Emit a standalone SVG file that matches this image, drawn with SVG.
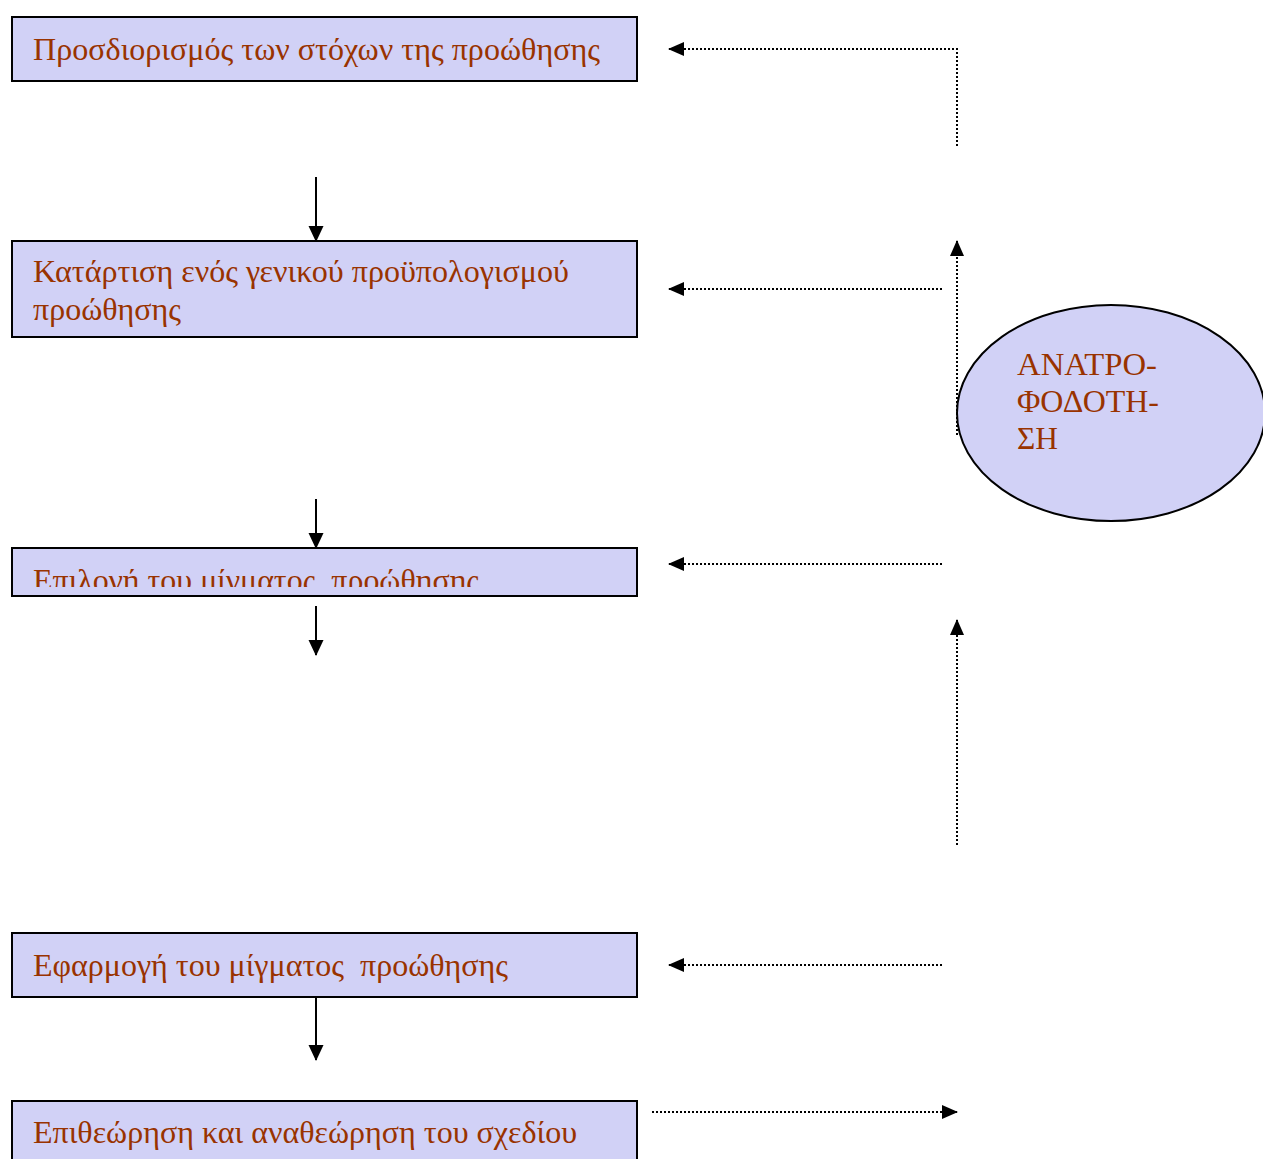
<svg xmlns="http://www.w3.org/2000/svg" width="1263" height="1159" viewBox="0 0 1263 1159">
  <defs>
    <marker id="solid-head" markerWidth="16" markerHeight="16" refX="15" refY="8" orient="auto" markerUnits="userSpaceOnUse">
      <path d="M0,0.5 L16,8 L0,15.5 Z" fill="#000"/>
    </marker>
    <marker id="dot-head" markerWidth="16" markerHeight="16" refX="15" refY="8" orient="auto" markerUnits="userSpaceOnUse">
      <path d="M0,1 L16,8 L0,15 Z" fill="#000"/>
    </marker>
    <clipPath id="clip-step3">
      <rect x="12" y="548" width="625" height="39"/>
    </clipPath>
  </defs>
  <style>
    .box { fill: #d1d1f6; stroke: #000; stroke-width: 2; }
    .label { font-family: "Liberation Serif", "Times New Roman", serif; font-size: 32px; fill: #993300; }
    .solid { stroke: #000; stroke-width: 2; fill: none; marker-end: url(#solid-head); }
    .dotted-arrow { stroke: #000; stroke-width: 2; stroke-dasharray: 2 2; fill: none; marker-end: url(#dot-head); }
  </style>
  <rect width="1263" height="1159" fill="#fff"/>

  <g id="step-objectives">
    <rect class="box" x="12" y="17" width="625" height="64"/>
    <text class="label" x="33" y="60" textLength="567" lengthAdjust="spacingAndGlyphs">Προσδιορισμός των στόχων της προώθησης</text>
  </g>

  <g id="step-budget">
    <rect class="box" x="12" y="241" width="625" height="96"/>
    <text class="label" x="33" y="282" textLength="536" lengthAdjust="spacingAndGlyphs">Κατάρτιση ενός γενικού προϋπολογισμού</text>
    <text class="label" x="33" y="320" textLength="148" lengthAdjust="spacingAndGlyphs">προώθησης</text>
  </g>

  <g id="step-mix">
    <rect class="box" x="12" y="548" width="625" height="48"/>
    <text class="label" x="33" y="591" textLength="446" lengthAdjust="spacingAndGlyphs" clip-path="url(#clip-step3)" xml:space="preserve">Επιλογή του μίγματος  προώθησης</text>
  </g>

  <g id="step-implement">
    <rect class="box" x="12" y="933" width="625" height="64"/>
    <text class="label" x="33" y="976" textLength="475" lengthAdjust="spacingAndGlyphs" xml:space="preserve">Εφαρμογή του μίγματος  προώθησης</text>
  </g>

  <g id="step-review">
    <rect class="box" x="12" y="1101" width="625" height="70"/>
    <text class="label" x="33" y="1143" textLength="544" lengthAdjust="spacingAndGlyphs">Επιθεώρηση και αναθεώρηση του σχεδίου</text>
  </g>

  <g id="feedback">
    <ellipse cx="1111" cy="413" rx="154" ry="108" fill="#d1d1f6" stroke="#000" stroke-width="2"/>
    <text class="label" x="1017" y="375" textLength="140" lengthAdjust="spacingAndGlyphs">ΑΝΑΤΡΟ-</text>
    <text class="label" x="1017" y="412" textLength="142" lengthAdjust="spacingAndGlyphs">ΦΟΔΟΤΗ-</text>
    <text class="label" x="1017" y="449" textLength="41" lengthAdjust="spacingAndGlyphs">ΣΗ</text>
  </g>

  <g id="connectors">
    <!-- main flow -->
    <line class="solid" x1="316" y1="177" x2="316" y2="241"/>
    <line class="solid" x1="316" y1="499" x2="316" y2="548"/>
    <line class="solid" x1="316" y1="606" x2="316" y2="655"/>
    <line class="solid" x1="316" y1="997" x2="316" y2="1060"/>

    <!-- feedback loop -->
    <polyline class="dotted-arrow" points="957,146 957,49 669,49"/>
    <line class="dotted-arrow" x1="942" y1="289" x2="669" y2="289"/>
    <line class="dotted-arrow" x1="957" y1="435" x2="957" y2="241"/>
    <line class="dotted-arrow" x1="942" y1="564" x2="669" y2="564"/>
    <line class="dotted-arrow" x1="957" y1="845" x2="957" y2="620"/>
    <line class="dotted-arrow" x1="942" y1="965" x2="669" y2="965"/>
    <line class="dotted-arrow" x1="652" y1="1112" x2="957" y2="1112"/>
  </g>
</svg>
